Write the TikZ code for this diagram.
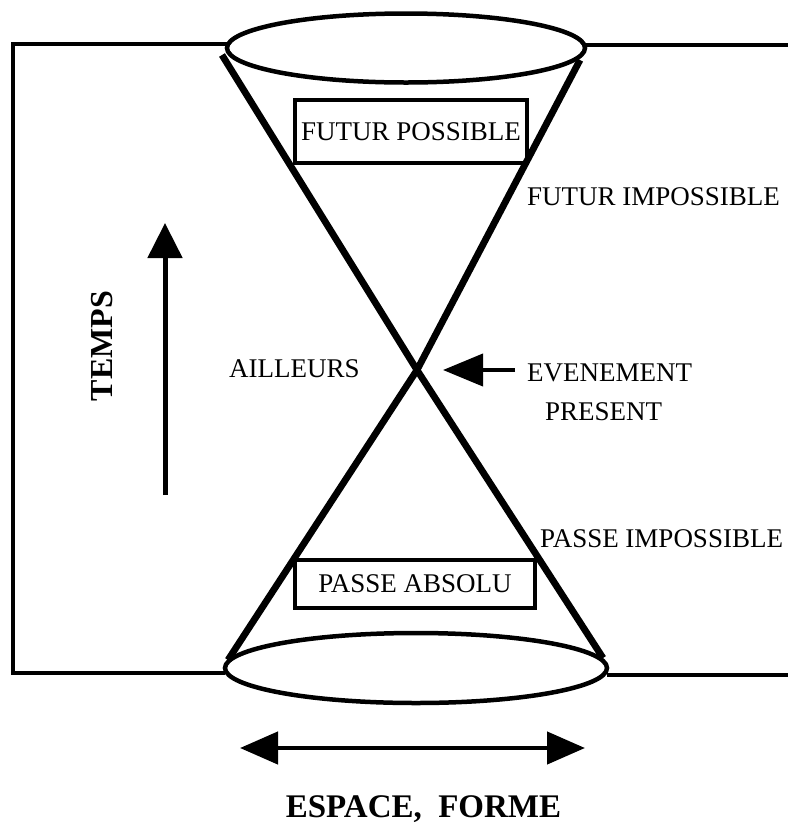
\documentclass[tikz,border=0pt]{standalone}
\usepackage{fontspec}
\setmainfont{Liberation Serif}
\usetikzlibrary{arrows.meta,shapes.geometric}
\begin{document}
\begin{tikzpicture}[x=1pt,y=-1pt,
  lbl/.style={font=\fontsize{27}{29}\selectfont, inner sep=0pt},
  big/.style={font=\fontsize{32}{34}\selectfont\bfseries, inner sep=0pt},
  frame/.style={line width=4.5pt},
  cone/.style={line width=6.8pt},
  rim/.style={draw, ellipse, line width=4.5pt, inner sep=0pt},
  zone/.style={draw, line width=4.5pt, inner sep=0pt, font=\fontsize{27}{29}\selectfont},
  arr/.style={-{Triangle[length=38pt,width=32pt]}, line width=4.5pt}
]
\useasboundingbox (0,0) rectangle (788,823);

% rims of the light cone
\node[rim, minimum width=358pt, minimum height=69pt] (top) at (406,48) {};
\node[rim, minimum width=382pt, minimum height=70pt] (bot) at (416,668) {};

% surrounding frame
\coordinate (ftl) at (13,44);
\coordinate (fbl) at (13,673);
\coordinate (ftr) at (788,45);
\coordinate (fbr) at (788,675);
\draw[frame] (227,44) -- (ftl) -- (fbl) -- (225,673);
\draw[frame] (585,45) -- (ftr);
\draw[frame] (607,675) -- (fbr);

% cone generators meeting at the present event
\coordinate (ev) at (417,370);
\coordinate (c1) at (222,55);
\coordinate (c2) at (580,60);
\coordinate (c3) at (228,660);
\coordinate (c4) at (603,658);
\draw[cone] (c1) -- (ev);
\draw[cone] (c2) -- (ev);
\draw[cone] (ev) -- (c3);
\draw[cone] (ev) -- (c4);

% boxed regions
\node[zone, minimum width=232pt, minimum height=63pt] (fp) at (411,131.5) {FUTUR POSSIBLE};
\node[zone, minimum width=240pt, minimum height=48pt] (pa) at (415,584) {PASSE ABSOLU};

% labels
\node[lbl, anchor=base west] (fi) at (527,205) {FUTUR IMPOSSIBLE};
\node[lbl, anchor=base west] (ail) at (229,377) {AILLEURS};
\node[lbl, anchor=base west] (evt) at (527,381) {EVENEMENT};
\node[lbl, anchor=base west] (pre) at (545,420) {PRESENT};
\node[lbl, anchor=base west] (pi) at (540,547) {PASSE IMPOSSIBLE};

% pointer to the event
\coordinate (pt) at (515,370);
\coordinate (ptip) at (443,370);
\draw[-{Triangle[length=40pt,width=32pt]}, line width=4pt] (pt) -- (ptip);

% time axis
\coordinate (t0) at (165,495);
\coordinate (t1) at (165,223);
\draw[-{Triangle[length=35pt,width=34pt]}, line width=5pt] (t0) -- (t1);
\node[big, rotate=90] (temps) at (102,346) {TEMPS};

% space axis
\coordinate (s0) at (240,748);
\coordinate (s1) at (585,748);
\draw[{Triangle[length=38pt,width=32pt]}-{Triangle[length=38pt,width=32pt]}, line width=4.5pt] (s0) -- (s1);
\node[big, font=\fontsize{33}{35}\selectfont\bfseries, anchor=base] (esp) at (423.5,817) {ESPACE,\ \ FORME};
\end{tikzpicture}
\end{document}
